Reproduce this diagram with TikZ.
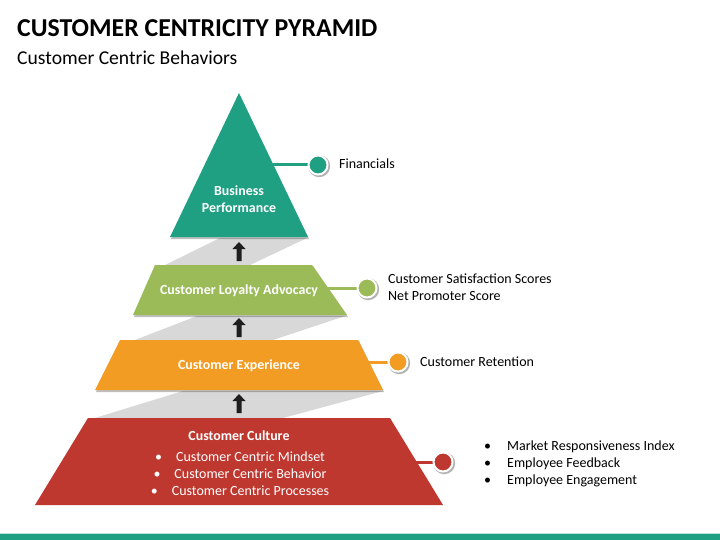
\documentclass[tikz,border=0pt]{standalone}
\usepackage{fontspec}
\setmainfont{Carlito}
\begin{document}
\begin{tikzpicture}[x=1pt,y=-1pt,
  lbl/.style={font=\fontsize{14}{16}\selectfont, text=black, inner sep=0pt},
  inlbl/.style={font=\fontsize{13.9}{17}\selectfont\bfseries, text=white, align=center, inner sep=0pt},
  lst/.style={inner sep=0pt, anchor=base, font=\fontsize{14}{16}\selectfont, text=white},
  dot/.style={circle, minimum size=19pt, inner sep=0pt, draw=white, line width=2pt},
  band/.style={fill=bandgray},
  tie/.style={line width=3pt},
  upar/.style={fill=arrowblack}
]
\definecolor{cteal}{RGB}{31,160,131}
\definecolor{cgreen}{RGB}{155,187,89}
\definecolor{corange}{RGB}{243,156,35}
\definecolor{cred}{RGB}{190,56,48}
\definecolor{bandgray}{RGB}{216,216,216}
\definecolor{arrowblack}{RGB}{30,30,30}
\useasboundingbox (0,0) rectangle (720,540);
\fill[white] (0,0) rectangle (720,540);

% title
\node[anchor=base west, inner sep=0pt, font=\fontsize{25.8}{30}\selectfont\bfseries] (title) at (17,37) {CUSTOMER CENTRICITY PYRAMID};
\node[anchor=base west, inner sep=0pt, font=\fontsize{19.6}{23}\selectfont] (subtitle) at (17,65) {Customer Centric Behaviors};

% gray bands
\fill[band] (220,238) -- (307,238) -- (250,265) -- (165,265) -- cycle;
\fill[band] (197,316) -- (345,316) -- (273,340) -- (135,340) -- cycle;
\fill[band] (183,391) -- (383,391) -- (283,418) -- (95,418) -- cycle;

% shadows
\fill[black, opacity=0.25] (239,94) -- (309,239) -- (171,239) -- cycle;
\fill[black, opacity=0.25] (156,266) -- (313,266) -- (348,317) -- (134,317) -- cycle;
\fill[black, opacity=0.25] (121,341) -- (359,341) -- (384,392) -- (96,392) -- cycle;

% shapes
\fill[cteal] (239,93) -- (308,237) -- (170,237) -- cycle;
\fill[cgreen] (155,265) -- (312,265) -- (347,315) -- (133,315) -- cycle;
\fill[corange] (120,340) -- (358,340) -- (383,390) -- (95,390) -- cycle;
\fill[cred] (88,418) -- (390,418) -- (443,505) -- (35,505) -- cycle;

% arrows
\foreach \y in {242,318,394}{
  \fill[upar] (239,\y) -- (245.5,\y+7) -- (241.5,\y+7) -- (241.5,\y+19) -- (236.5,\y+19) -- (236.5,\y+7) -- (232.5,\y+7) -- cycle;
}

% inner labels
\node[inlbl] (bp) at (239,199) {Business\\Performance};
\node[inlbl] (cla) at (239,291) {Customer Loyalty Advocacy};
\node[inlbl] (ce) at (239,366) {Customer Experience};
\node[inlbl, anchor=base] (cc) at (239,440) {Customer Culture};
\node[lst] (cc1) at (240,461) {\makebox[21pt][l]{\textbullet}Customer Centric Mindset};
\node[lst] (cc2) at (240,478) {\makebox[21pt][l]{\textbullet}Customer Centric Behavior};
\node[lst] (cc3) at (240,495) {\makebox[21pt][l]{\textbullet}Customer Centric Processes};

% connectors
\coordinate (e1) at (273,165);
\coordinate (e2) at (327,288);
\coordinate (e3) at (368,362);
\coordinate (e4) at (416,462);
\foreach \x/\y in {318/165,367/288,398/362,443/462}{
  \fill[black, opacity=0.3] (\x+1.2,\y+1.2) circle[radius=11];
}
\draw[tie, cteal] (e1) -- (318,165);
\draw[tie, cgreen] (e2) -- (367,288);
\draw[tie, corange] (e3) -- (398,362);
\draw[tie, cred] (e4) -- (443,462);
\node[dot, fill=cteal] (d1) at (318,165) {};
\node[dot, fill=cgreen] (d2) at (367,288) {};
\node[dot, fill=corange] (d3) at (398,362) {};
\node[dot, fill=cred] (d4) at (443,462) {};

% right labels
\node[lbl, anchor=base west] (t1) at (339,169) {Financials};
\node[lbl, anchor=base west] (t2) at (388,283) {Customer Satisfaction Scores};
\node[lbl, anchor=base west] (t2b) at (388,300) {Net Promoter Score};
\node[lbl, anchor=base west] (t3) at (420,366) {Customer Retention};
\node[lbl, anchor=base west] (t4) at (484,450) {\makebox[23pt][l]{\textbullet}Market Responsiveness Index};
\node[lbl, anchor=base west] (t5) at (484,467) {\makebox[23pt][l]{\textbullet}Employee Feedback};
\node[lbl, anchor=base west] (t6) at (484,484) {\makebox[23pt][l]{\textbullet}Employee Engagement};

% bottom bar
\fill[cteal] (0,534) rectangle (720,540);
\fill[cteal!30] (0,533) rectangle (720,534);
\end{tikzpicture}
\end{document}
